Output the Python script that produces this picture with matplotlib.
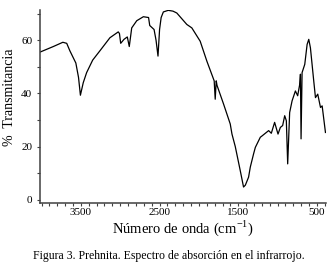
import matplotlib
matplotlib.use("Agg")
import matplotlib.pyplot as plt
from matplotlib.ticker import MultipleLocator, FixedLocator

wavenumber = [4020, 3850, 3729, 3680, 3640, 3564, 3530, 3506, 3470, 3427, 3350,
              3258, 3131, 3025, 3010, 2994, 2952, 2910, 2885, 2854, 2790, 2706,
              2640, 2625, 2570, 2545, 2520, 2500, 2480, 2452, 2390, 2330, 2281,
              2154, 2090, 1984, 1899, 1806, 1793, 1780, 1770, 1687, 1602, 1580,
              1538, 1475, 1433, 1410, 1369, 1347, 1305, 1283, 1220, 1198, 1114,
              1080, 1038, 995, 965, 936, 910, 889, 872, 847, 816, 774, 745, 719,
              710, 702, 689, 655, 625, 604, 583, 541, 519, 490, 455, 434, 392]
transmittance = [55.5, 57.6, 59.2, 58.8, 56.0, 51.4, 46.0, 39.3, 44.0, 47.8, 52.5,
                 56.0, 60.9, 63.1, 62.5, 58.8, 60.3, 61.2, 57.6, 64.6, 67.3, 68.8,
                 68.5, 65.5, 64.0, 60.0, 54.0, 64.0, 68.5, 70.6, 71.2, 70.9, 70.2,
                 65.9, 64.6, 59.6, 52.1, 44.7, 37.8, 44.7, 43.0, 36.0, 28.5, 24.7,
                 20.0, 11.0, 4.8, 5.5, 8.5, 12.3, 17.3, 19.7, 23.5, 24.0, 26.0,
                 25.0, 29.1, 24.7, 27.2, 27.9, 31.6, 29.7, 13.5, 32.8, 37.2, 40.9,
                 39.1, 43.4, 47.2, 22.9, 47.8, 50.9, 58.4, 60.3, 57.1, 44.7, 38.4,
                 39.7, 34.7, 35.3, 25.3]
x_ticks = [3500, 2500, 1500, 500]
y_ticks = [0, 20, 40, 60]

plt.rcParams['font.family'] = ['Liberation Serif', 'DejaVu Serif']

fig = plt.figure(figsize=(3.33, 2.65), dpi=100)
ax = fig.add_axes([0.120, 0.234, 0.859, 0.730])
ax.plot(wavenumber, transmittance, color='black', linewidth=0.9)

ax.set_xlim(4020, 385)
ax.set_ylim(-1.2, 71.5)
ax.xaxis.set_major_locator(FixedLocator(x_ticks))
ax.xaxis.set_minor_locator(MultipleLocator(100))
ax.yaxis.set_major_locator(FixedLocator(y_ticks))
ax.yaxis.set_minor_locator(MultipleLocator(10))

for s in ['top', 'right']:
    ax.spines[s].set_visible(False)
for s in ['left', 'bottom']:
    ax.spines[s].set_color('#404040')
    ax.spines[s].set_linewidth(1.1)

ax.tick_params(which='both', direction='out', length=2.5, width=0.8, color='#404040')
ax.tick_params(axis='x', which='major', labelsize=8, pad=1)
ax.tick_params(axis='y', which='major', labelsize=8, pad=3)

ax.set_xlabel('Número de onda (cm$^{\\mathregular{-1}}$)', fontsize=10.5, labelpad=1)
ax.set_ylabel('%  Transmitancia', fontsize=10, va='center')
ax.yaxis.set_label_coords(-0.108, 0.548)

fig.text(0.506, 0.034, 'Figura 3. Prehnita. Espectro de absorción en el infrarrojo.',
         ha='center', va='center', fontsize=8.5)

fig.savefig('out.png', dpi=100)
